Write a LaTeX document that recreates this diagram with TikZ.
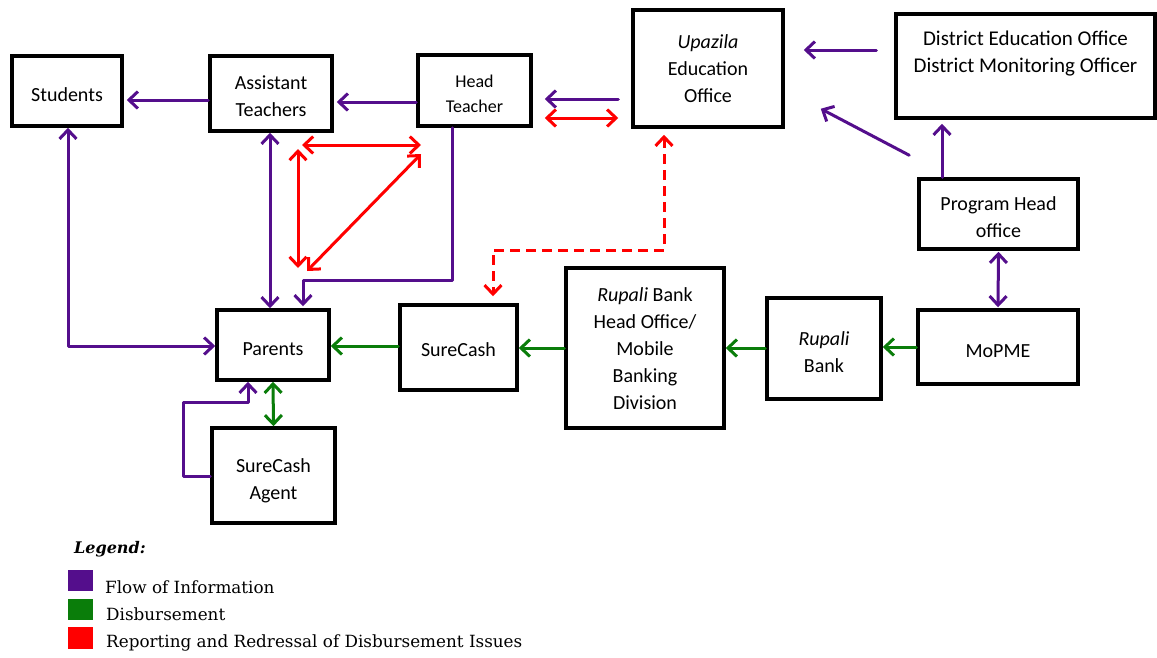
\documentclass[tikz,border=0pt]{standalone}
\usepackage{fontspec}
\setmainfont{Carlito}
\newfontfamily\legfont{DejaVu Serif}
\usetikzlibrary{arrows.meta}
\definecolor{infoc}{RGB}{84,14,140}
\definecolor{disbc}{RGB}{10,125,10}
\definecolor{redc}{RGB}{255,0,0}
\newcommand\bxt[2][4pt]{\raisebox{-#1}[\height][\depth]{\begin{tabular}{@{}c@{}}#2\end{tabular}}}
\begin{document}
\begin{tikzpicture}[x=1pt,y=-1pt,
  box/.style={draw=black,line width=3.5pt,align=center,inner sep=2pt,
    font=\fontsize{20}{27}\selectfont},
  >={Straight Barb[length=9pt,width=17pt]},
  conn/.style={line width=3pt,line join=round,line cap=round},
  info/.style={conn,draw=infoc},
  disb/.style={conn,draw=disbc},
  redr/.style={conn,draw=redc},
  legtext/.style={anchor=west,inner sep=0pt,font=\legfont\fontsize{16.8}{17}\selectfont}]
\useasboundingbox (0,0) rectangle (1157,657);
\fill[white] (0,0) rectangle (1157,657);

% boxes
\node[box,minimum width=110pt,minimum height=70pt] (stu) at (67,91) {\bxt[5pt]{Students}};
\node[box,minimum width=122pt,minimum height=75pt] (ast) at (271,93.5) {\bxt[4pt]{Assistant\\Teachers}};
\node[box,minimum width=113pt,minimum height=71pt,font=\fontsize{18}{25}\selectfont] (head) at (474.5,90.5) {\bxt[4pt]{Head\\Teacher}};
\node[box,minimum width=150pt,minimum height=117pt] (up) at (708,68.5) {\bxt[2pt]{\textit{Upazila}\\Education\\Office}};
\node[box,minimum width=259pt,minimum height=104pt,font=\fontsize{21}{27}\selectfont] (dist) at (1025.5,66) {\bxt[1pt]{District Education Office\\District Monitoring Officer\\\mbox{}}};
\node[box,minimum width=159pt,minimum height=70pt] (prog) at (998.5,214) {\bxt[5pt]{Program Head\\office}};
\node[box,minimum width=160pt,minimum height=74pt] (mopme) at (998,347) {\bxt[5pt]{MoPME}};
\node[box,minimum width=114pt,minimum height=101pt] (rb) at (824,348.5) {\bxt[5pt]{\textit{Rupali}\\Bank}};
\node[box,minimum width=158pt,minimum height=160pt] (rbho) at (645,348) {\bxt[2pt]{\textit{Rupali} Bank\\Head Office/\\Mobile\\Banking\\Division}};
\node[box,minimum width=117pt,minimum height=85pt] (sc) at (458.5,347.5) {\bxt[4pt]{SureCash}};
\node[box,minimum width=112pt,minimum height=70pt] (par) at (273,345) {\bxt[5pt]{Parents}};
\node[box,minimum width=123pt,minimum height=95pt] (agent) at (273.5,475.5) {\bxt[5pt]{SureCash\\Agent}};

% information flow
\draw[info,->,shorten >=3pt] (ast.west |- 0,100) -- (stu.east |- 0,100);
\draw[info,->,shorten >=3pt] (head.west |- 0,102) -- (ast.east |- 0,102);
\draw[info,->,shorten <=13pt,shorten >=12pt] (up.west |- 0,99) -- (head.east |- 0,99);
\draw[info,->,shorten <=18pt,shorten >=19pt] (dist.west |- 0,50) -- (up.east |- 0,50);
\draw[info,->] ([shift={(-8,-22)}]prog.north west) -- ([shift={(36,-20)}]up.south east);
\draw[info,->,shorten >=4pt] (prog.north -| 942,0) -- (dist.south -| 942,0);
\draw[info,<->,shorten <=1pt,shorten >=1pt] (prog.south) -- (mopme.north);
\draw[info,->] (agent.west |- 0,476) -| (183,402) -| (par.south -| 248,0);
\draw[info,<->] (stu.south -| 68,0) |- (par.west |- 0,346);
\draw[info,<->] (ast.south -| 270,0) -- (par.north -| 270,0);
\draw[info,->,shorten >=2pt] (head.south -| 452,0) |- (303,280) -- (par.north -| 303,0);

% disbursement
\draw[disb,->] (mopme.west) -- (rb.east |- mopme.west);
\draw[disb,->] (rb.west |- 0,348) -- (rbho.east |- 0,348);
\draw[disb,->] (rbho.west |- 0,348) -- (sc.east |- 0,348);
\draw[disb,->] (sc.west |- 0,346) -- (par.east |- 0,346);
\draw[disb,<->] (par.south) -- (agent.north);

% reporting and redressal
\draw[redr,<->,shorten <=13pt,shorten >=12pt] (up.west |- 0,118) -- (head.east |- 0,118);
\coordinate (ra) at (302,145);
\coordinate (rb2) at (421,145);
\coordinate (rc) at (298,149);
\coordinate (rd) at (298,268);
\coordinate (re) at (307,271);
\coordinate (rf) at (421,154);
\draw[redr,<->] (ra) -- (rb2);
\draw[redr,<->] (rc) -- (rd);
\draw[redr,<->] (re) -- (rf);
\draw[redr,<->,dash pattern=on 10pt off 6pt,line cap=butt,shorten <=6pt,shorten >=7pt]
  (up.south -| 664,0) |- (493,250) -- (sc.north -| 493,0);

% legend
\node[anchor=west,inner sep=0pt,font=\legfont\bfseries\itshape\fontsize{16}{16}\selectfont] (leg) at (74,549) {Legend:};
\node[fill=infoc,minimum width=25pt,minimum height=21pt,inner sep=0pt] (sq1) at (80.5,580.5) {};
\node[fill=disbc,minimum width=25pt,minimum height=21pt,inner sep=0pt] (sq2) at (80.5,609.5) {};
\node[fill=redc,minimum width=25pt,minimum height=22pt,inner sep=0pt] (sq3) at (80.5,638) {};
\node[legtext] (l1) at (105,587) {Flow of Information};
\node[legtext] (l2) at (106,614) {Disbursement};
\node[legtext] (l3) at (106,643) {Reporting and Redressal of Disbursement Issues};
\end{tikzpicture}
\end{document}
